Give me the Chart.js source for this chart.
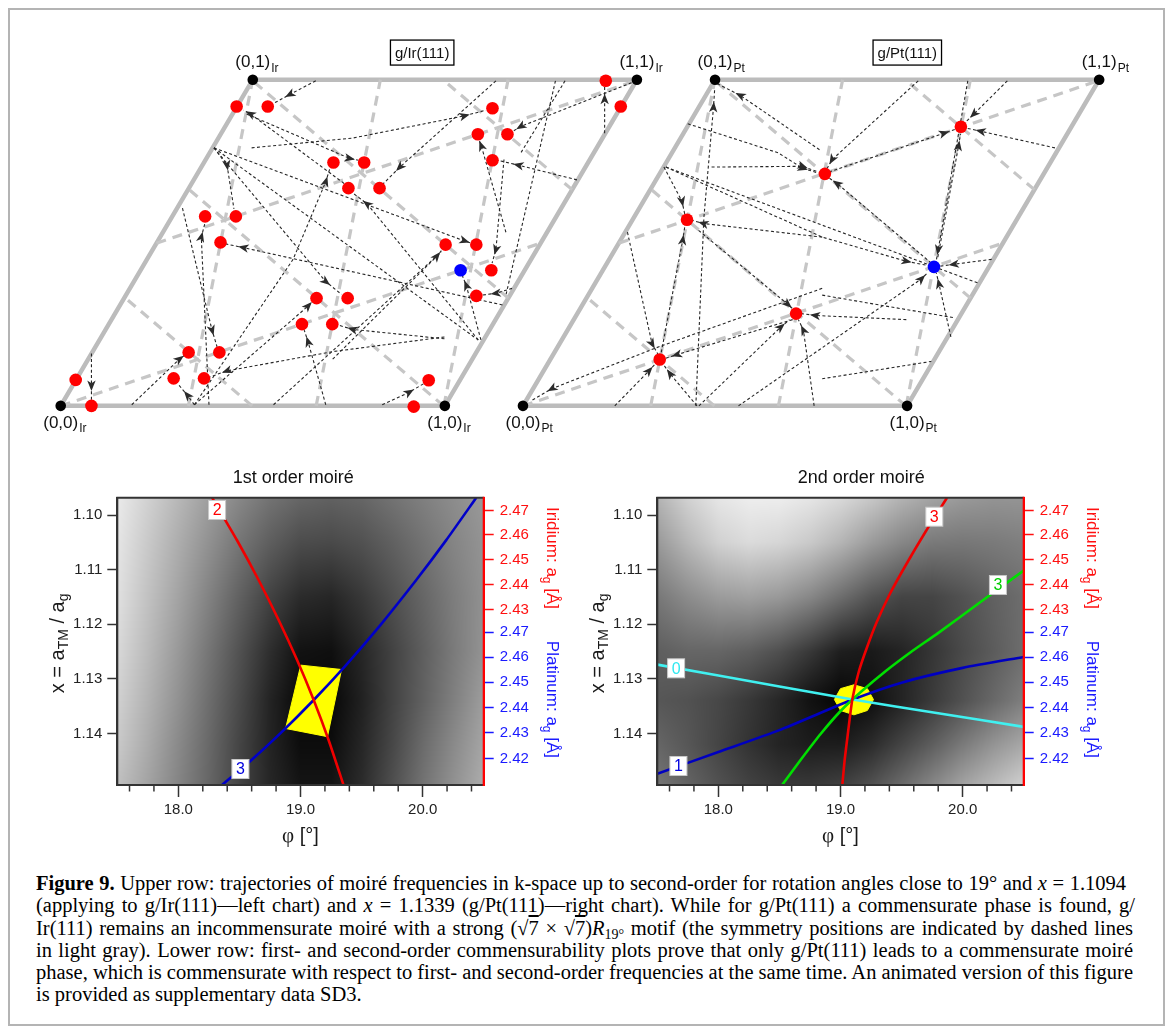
<!DOCTYPE html>
<html>
<head>
<meta charset="utf-8">
<title>Figure 9 – moiré trajectories and commensurability plots</title>
<script src="https://cdn.jsdelivr.net/npm/chart.js@4.4.1/dist/chart.umd.min.js"></script>
<style>
  html, body { margin:0; padding:0; background:#fff; }
  body { width:1173px; height:1034px; position:relative; overflow:hidden; }
  #frame { position:absolute; left:8px; top:8px; width:1157px; height:1018px; border:2px solid #b4b4b4; box-sizing:border-box; }
  canvas { position:absolute; }
  #cUpper { left:0; top:30px; width:1173px; height:420px; }
  #cLow1 { left:20px; top:460px; width:570px; height:390px; }
  #cLow2 { left:560px; top:460px; width:570px; height:390px; }
  #caption { position:absolute; left:36px; top:872px; width:1100px; font-family:"Liberation Serif","Times New Roman",serif; font-size:20.5px; line-height:22.3px; color:#000; }
  #caption .ln { white-space:nowrap; height:22.3px; }
  #caption .t { display:inline-block; white-space:nowrap; }
  #caption .sb { font-size:14px; vertical-align:-4px; line-height:0; }
  #caption .ov { text-decoration:overline; }
</style>
</head>
<body>
<div id="frame"></div>
<canvas id="cUpper" width="1173" height="420"></canvas>
<canvas id="cLow1" width="570" height="390"></canvas>
<canvas id="cLow2" width="570" height="390"></canvas>
<div id="caption">
<div class="ln"><span class="t j" data-w="1090"><b>Figure 9.</b> Upper row: trajectories of moiré frequencies in k-space up to second-order for rotation angles close to 19° and <i>x</i> = 1.1094</span></div>
<div class="ln"><span class="t j" data-w="1099">(applying to g/Ir(111)—left chart) and <i>x</i> = 1.1339 (g/Pt(111)—right chart). While for g/Pt(111) a commensurate phase is found, g/</span></div>
<div class="ln"><span class="t j" data-w="1097">Ir(111) remains an incommensurate moiré with a strong (√<span class="ov">7</span> × √<span class="ov">7</span>)<i>R</i><span class="sb">19°</span> motif (the symmetry positions are indicated by dashed lines</span></div>
<div class="ln"><span class="t j" data-w="1097">in light gray). Lower row: first- and second-order commensurability plots prove that only g/Pt(111) leads to a commensurate moiré</span></div>
<div class="ln"><span class="t j" data-w="1097">phase, which is commensurate with respect to first- and second-order frequencies at the same time. An animated version of this figure</span></div>
<div class="ln"><span class="t">is provided as supplementary data SD3.</span></div>
</div>

<script>
// =================== DATA ===================
// ---- Upper row: k-space, Cartesian coordinates in units of the substrate reciprocal vector ----
const cornerLattice = [[0,0],[1,0],[1,1],[0,1]];
const cornerNames   = ['(0,0)','(1,0)','(1,1)','(0,1)'];
const panelMetals   = ['Ir','Pt'];
const panelTitles   = ['g/Ir(111)','g/Pt(111)'];
const panelShift    = [0, 1.2034];
const titleBoxPos   = [[0.941,0.938],[1.0005,0.938]];
const symVec        = [0.3563, 0.1232];   // (√7×√7)R19° symmetry vector

const irRed = [[0.458,0.795],[0.539,0.795],[1.124,0.790],[1.086,0.721],[1.163,0.721],[1.124,0.652],
  [0.710,0.646],[0.790,0.646],[0.749,0.578],[0.830,0.578],[0.376,0.503],[0.456,0.503],[0.416,0.434],
  [1.002,0.428],[1.082,0.428],[1.121,0.360],[1.082,0.292],[0.666,0.286],[0.747,0.286],[0.628,0.217],
  [0.707,0.217],[0.333,0.142],[0.413,0.142],[0.294,0.073],[0.373,0.073],[0.039,0.069],[0.080,0.000],
  [0.958,0.068],[0.919,-0.002],[1.419,0.863],[1.458,0.795]];
const irBlue = [[1.041,0.360]];
const ptRed  = [[0.356,0.123],[0.427,0.494],[0.711,0.245],[0.786,0.616],[1.140,0.741]];
const ptBlue = [[1.070,0.369]];

// trajectories: last two points = arrow head position and the point it aims at
const irTraj = [
  [[0.664,0.863],[0.597,0.827],[0.554,0.803]],
  [[0.749,0.582],[0.494,0.775],[0.476,0.785]],
  [[0.497,0.685],[0.760,0.711],[1.051,0.770],[1.107,0.785]],
  [[1.133,0.863],[0.883,0.634],[0.837,0.587]],
  [[0.399,0.685],[0.433,0.639],[0.451,0.523]],
  [[0.399,0.685],[1.051,0.438],[1.066,0.433]],
  [[0.348,0.003],[0.605,0.389],[0.690,0.595],[0.700,0.628]],
  [[1.087,0.175],[0.798,0.536],[0.762,0.564]],
  [[1.159,0.461],[1.095,0.690],[1.089,0.706]],
  [[1.154,0.654],[1.133,0.415],[1.123,0.379]],
  [[0.708,0.124],[0.979,0.397],[0.991,0.412]],
  [[1.094,0.175],[1.056,0.319],[1.046,0.345]],
  [[1.175,0.312],[1.133,0.299],[1.097,0.294]],
  [[1.150,0.268],[0.476,0.420],[0.430,0.430]],
  [[0.399,0.685],[0.690,0.330],[0.731,0.296]],
  [[0.348,0.003],[0.644,0.265],[0.654,0.276]],
  [[0.690,0.003],[0.644,0.170],[0.634,0.201]],
  [[0.999,0.178],[0.760,0.203],[0.724,0.214]],
  [[0.185,0.003],[0.309,0.124],[0.322,0.134]],
  [[0.348,0.003],[0.330,0.028],[0.306,0.057]],
  [[0.999,0.183],[0.708,0.144],[0.433,0.093],[0.389,0.077]],
  [[0.317,0.525],[0.394,0.201],[0.407,0.157]],
  [[0.386,0.003],[0.366,0.448],[0.376,0.487]],
  [[0.080,0.139],[0.080,0.054],[0.080,0.015]],
  [[0.837,0.003],[0.907,0.036],[0.945,0.059]],
  [[0.484,0.775],[0.752,0.657],[0.775,0.652]],
  [[1.416,0.724],[1.416,0.814],[1.416,0.847]],
  [[1.486,0.858],[1.198,0.742],[1.177,0.729]],
  [[1.344,0.600],[1.192,0.639],[1.138,0.652]]
];
const irLines = [
  [[0.399,0.685],[1.087,0.175]],
  [[1.288,0.863],[1.159,0.294]],
  [[1.313,0.863],[1.198,0.672]],
  [[0.554,0.003],[0.991,0.409]]
];
const ptTraj = [
  [[0.772,0.680],[0.566,0.824],[0.501,0.858]],
  [[0.450,0.000],[0.471,0.500],[0.496,0.793],[0.499,0.840]],
  [[0.429,0.749],[0.664,0.672],[0.728,0.631],[0.769,0.618]],
  [[0.491,0.634],[0.728,0.636],[0.769,0.621]],
  [[0.367,0.634],[0.414,0.543],[0.421,0.510]],
  [[0.372,0.634],[0.779,0.448],[0.998,0.384],[1.052,0.373]],
  [[0.272,0.461],[0.336,0.165],[0.352,0.136]],
  [[0.360,0.142],[0.416,0.440],[0.421,0.474]],
  [[0.779,0.448],[0.470,0.484],[0.442,0.492]],
  [[0.457,0.466],[0.689,0.270],[0.702,0.258]],
  [[0.998,0.229],[0.761,0.240],[0.725,0.245]],
  [[0.758,0.000],[0.730,0.201],[0.717,0.229]],
  [[0.458,0.000],[0.671,0.209],[0.694,0.229]],
  [[0.239,0.000],[0.328,0.093],[0.344,0.111]],
  [[0.453,0.000],[0.383,0.085],[0.367,0.108]],
  [[0.702,0.229],[0.401,0.136],[0.370,0.126]],
  [[0.779,0.312],[0.354,0.157],[0.076,0.046],[0.020,0.013]],
  [[1.261,0.863],[1.174,0.775],[1.151,0.752]],
  [[1.385,0.685],[1.192,0.729],[1.156,0.737]],
  [[1.080,0.395],[1.134,0.690],[1.139,0.722]],
  [[1.158,0.863],[1.081,0.415],[1.076,0.386]],
  [[1.029,0.863],[0.805,0.654],[0.792,0.631]],
  [[1.063,0.379],[0.818,0.590],[0.797,0.605]],
  [[0.797,0.621],[1.096,0.724],[1.125,0.734]],
  [[1.220,0.389],[1.122,0.376],[1.086,0.371]],
  [[0.561,0.000],[1.037,0.337],[1.055,0.355]],
  [[1.114,0.183],[1.083,0.324],[1.076,0.353]]
];
const ptLines = [
  [[0.372,0.634],[1.185,0.326]],
  [[0.779,0.294],[1.122,0.234]],
  [[0.779,0.072],[1.063,0.118]]
];

// ---- Lower row: commensurability plots ----
const phiRange = [17.5, 20.5];
const xRange   = [1.09683, 1.14945];
const xTicks   = [1.10, 1.11, 1.12, 1.13, 1.14];
const phiMajor = [18.0, 19.0, 20.0];
const phiMinor = [17.6,17.8,18.2,18.4,18.6,18.8,19.2,19.4,19.6,19.8,20.2,20.4];
const aIr = 2.715, aPt = 2.770;          // substrate lattice constants [Å]
const irAgTicks = [2.47, 2.46, 2.45, 2.44, 2.43];
const ptAgTicks = [2.47, 2.46, 2.45, 2.44, 2.43, 2.42];

const shadePhi = [17.5,17.75,18.0,18.25,18.5,18.75,19.0,19.25,19.5,19.75,20.0,20.25,20.5];
const shadeX   = [1.097,1.105,1.115,1.125,1.134,1.142,1.1495];
const shade1 = [
  [0.92,0.82,0.72,0.62,0.53,0.45,0.40,0.38,0.40,0.45,0.50,0.55,0.60],
  [0.90,0.79,0.68,0.57,0.46,0.37,0.30,0.29,0.32,0.38,0.45,0.52,0.58],
  [0.88,0.76,0.64,0.51,0.38,0.26,0.17,0.15,0.22,0.31,0.40,0.49,0.57],
  [0.85,0.73,0.60,0.46,0.32,0.18,0.07,0.06,0.15,0.26,0.37,0.48,0.58],
  [0.82,0.70,0.57,0.43,0.29,0.14,0.03,0.03,0.13,0.26,0.38,0.50,0.62],
  [0.79,0.67,0.54,0.41,0.27,0.14,0.05,0.05,0.15,0.28,0.42,0.54,0.65],
  [0.75,0.64,0.52,0.40,0.27,0.15,0.08,0.08,0.17,0.31,0.45,0.57,0.68]
];
const shade2 = [
  [0.70,0.82,0.90,0.93,0.93,0.90,0.85,0.78,0.70,0.64,0.60,0.58,0.58],
  [0.60,0.72,0.82,0.86,0.84,0.79,0.71,0.61,0.53,0.48,0.47,0.48,0.50],
  [0.47,0.55,0.61,0.63,0.60,0.53,0.43,0.33,0.27,0.27,0.32,0.38,0.43],
  [0.37,0.40,0.40,0.37,0.31,0.22,0.12,0.10,0.14,0.21,0.29,0.36,0.43],
  [0.34,0.32,0.28,0.22,0.15,0.07,0.02,0.06,0.14,0.23,0.32,0.41,0.50],
  [0.40,0.34,0.27,0.20,0.14,0.11,0.11,0.17,0.27,0.37,0.48,0.58,0.66],
  [0.46,0.39,0.32,0.26,0.22,0.22,0.25,0.32,0.42,0.53,0.64,0.73,0.82]
];

// 1st order curves  [phi, x]
const o1Red    = [[18.276,1.09683],[18.479,1.10458],[18.657,1.11190],[18.821,1.11923],[18.972,1.12656],
                  [19.108,1.13388],[19.230,1.14121],[19.352,1.14945]];
const o1Blue   = [[18.358,1.14945],[18.590,1.14504],[18.837,1.13995],[19.108,1.13388],[19.371,1.12753],
                  [19.659,1.12002],[19.946,1.11196],[20.193,1.10460],[20.439,1.09683]];
const o1Yellow = [[19.002,1.1275],[19.336,1.1283],[19.221,1.1406],[18.878,1.1391],[19.002,1.1275]];
const o1Labels = [{t:'2', phi:18.317, x:1.09908, c:'#ff0000'}, {t:'3', phi:18.508, x:1.14652, c:'#0000dd'}];
// 2nd order curves
const o2Red    = [[19.015,1.14945],[19.034,1.14487],[19.059,1.14029],[19.097,1.13375],[19.149,1.12875],
                  [19.215,1.12436],[19.297,1.11960],[19.404,1.11447],[19.535,1.10916],[19.700,1.10293],[19.872,1.09683]];
const o2Green  = [[18.522,1.14945],[18.673,1.14487],[18.837,1.14011],[19.001,1.13590],[19.166,1.13242],
                  [19.371,1.12857],[19.577,1.12509],[19.796,1.12167],[20.152,1.11584],[20.513,1.10995]];
const o2Blue   = [[17.5,1.1474],[18.0,1.1434],[18.5,1.1394],[19.1,1.1338],[19.5,1.1307],[20.0,1.1280],[20.5,1.1260]];
const o2Cyan   = [[17.5,1.1274],[18.5,1.1314],[19.1,1.1338],[19.8,1.1363],[20.5,1.1388]];
const o2Yellow = [[19.27,1.1338],[19.22,1.1318],[19.11,1.1311],[19.00,1.1318],[18.95,1.1338],[19.00,1.1358],[19.11,1.1366],[19.22,1.1358],[19.27,1.1338]];
const o2Labels = [{t:'0', phi:17.654, x:1.12808, c:'#30e8f0'}, {t:'1', phi:17.673, x:1.14597, c:'#0000dd'},
                  {t:'3', phi:19.768, x:1.10031, c:'#ff0000'}, {t:'3', phi:20.289, x:1.11282, c:'#00cc00'}];

// =================== HELPERS ===================
const FONT  = '"Liberation Sans", Arial, sans-serif';
const SERIF = '"Liberation Serif", "Times New Roman", serif';
const S3 = Math.sqrt(3) / 2;
const latToCart = ([u, v]) => [u + v / 2, v * S3];
const cartToLat = ([x, y]) => { const v = y / S3; return [x - v / 2, v]; };

function clipToCell(P, d) {
  const p = cartToLat(P), q = cartToLat(d);
  let t0 = -1e9, t1 = 1e9;
  for (let k = 0; k < 2; k++) {
    if (Math.abs(q[k]) < 1e-12) { if (p[k] < 0 || p[k] > 1) return null; continue; }
    let a = -p[k] / q[k], b = (1 - p[k]) / q[k];
    if (a > b) [a, b] = [b, a];
    t0 = Math.max(t0, a); t1 = Math.min(t1, b);
  }
  if (t1 - t0 < 0.02) return null;
  return [[P[0] + t0 * d[0], P[1] + t0 * d[1]], [P[0] + t1 * d[0], P[1] + t1 * d[1]]];
}
function symmetryLines() {
  const b1 = symVec, c = 0.5, s = S3;
  const b2 = [b1[0] * c - b1[1] * s, b1[0] * s + b1[1] * c];
  const fams = [[b1, b2], [b2, b1], [[b2[0] - b1[0], b2[1] - b1[1]], b1]];
  const segs = [];
  for (const [d, step] of fams) {
    for (let k = -14; k <= 14; k++) {
      const seg = clipToCell([k * step[0], k * step[1]], d);
      if (seg) segs.push(seg);
    }
  }
  return segs;
}
function drawRich(ctx, parts, cx, cy, rot, color) {
  ctx.save();
  let W = 0;
  for (const p of parts) { ctx.font = p.f + 'px ' + (p.fam || FONT); p.w = ctx.measureText(p.t).width; W += p.w; }
  ctx.translate(cx, cy); ctx.rotate(rot);
  ctx.textBaseline = 'middle'; ctx.textAlign = 'left'; ctx.fillStyle = color;
  let x0 = -W / 2;
  for (const p of parts) { ctx.font = p.f + 'px ' + (p.fam || FONT); ctx.fillText(p.t, x0, p.dy || 0); x0 += p.w; }
  ctx.restore();
}
function drawArrow(ctx, ax, ay, bx, by) {
  const ang = Math.atan2(by - ay, bx - ax);
  ctx.save(); ctx.translate(ax, ay); ctx.rotate(ang);
  ctx.beginPath(); ctx.moveTo(5.5, 0); ctx.lineTo(-5, -4.2); ctx.lineTo(-2.2, 0); ctx.lineTo(-5, 4.2); ctx.closePath();
  ctx.fillStyle = '#2b2b2b'; ctx.fill(); ctx.restore();
}

// =================== UPPER CHART ===================
const upperDatasets = [];
const symSegs = symmetryLines();
for (let p = 0; p < 2; p++) {
  const sx = panelShift[p];
  const sh = pts => pts.map(([x, y]) => ({ x: x + sx, y }));
  const rh = cornerLattice.concat([cornerLattice[0]]).map(latToCart);
  upperDatasets.push({ data: sh(rh), showLine: true, borderColor: '#bcbcbc', borderWidth: 4.5, pointRadius: 0, order: 6 });
  for (const seg of symSegs) upperDatasets.push({ data: sh(seg), showLine: true, borderColor: '#c6c6c6', borderWidth: 3.2, borderDash: [10, 7], pointRadius: 0, order: 5 });
  for (const l of (p ? ptLines : irLines)) upperDatasets.push({ data: sh(l), showLine: true, borderColor: '#262626', borderWidth: 1.1, borderDash: [3, 2.4], pointRadius: 0, order: 4 });
  for (const l of (p ? ptTraj : irTraj)) upperDatasets.push({ data: sh(l), showLine: true, borderColor: '#262626', borderWidth: 1.1, borderDash: [3, 2.4], pointRadius: 0, order: 4, arrow: true });
  upperDatasets.push({ data: sh(p ? ptRed : irRed), showLine: false, pointRadius: 6.3, pointBackgroundColor: '#ff0000', pointBorderWidth: 0, order: 2 });
  upperDatasets.push({ data: sh(p ? ptBlue : irBlue), showLine: false, pointRadius: 6.3, pointBackgroundColor: '#0000ff', pointBorderWidth: 0, order: 2 });
  upperDatasets.push({ data: sh(cornerLattice.map(latToCart)), showLine: false, pointRadius: 5.3, pointBackgroundColor: '#000', pointBorderWidth: 0, order: 1 });
}

const upperDecor = {
  id: 'upperDecor',
  afterDatasetsDraw(chart) {
    const ctx = chart.ctx;
    chart.data.datasets.forEach((ds, i) => {
      if (!ds.arrow) return;
      const pts = chart.getDatasetMeta(i).data, n = pts.length;
      drawArrow(ctx, pts[n - 2].x, pts[n - 2].y, pts[n - 1].x, pts[n - 1].y);
    });
  },
  afterDraw(chart) {
    const ctx = chart.ctx, xs = chart.scales.x, ys = chart.scales.y;
    for (let p = 0; p < 2; p++) {
      cornerLattice.forEach((c, k) => {
        const [cx, cy] = latToCart(c);
        const px = xs.getPixelForValue(cx + panelShift[p]), py = ys.getPixelForValue(cy);
        const ty = c[1] === 0 ? py + 17 : py - 17;
        ctx.save();
        ctx.fillStyle = '#111'; ctx.textBaseline = 'middle'; ctx.textAlign = 'center';
        ctx.font = '17px ' + FONT;
        const w = ctx.measureText(cornerNames[k]).width;
        ctx.fillText(cornerNames[k], px, ty);
        ctx.textAlign = 'left'; ctx.font = '12px ' + FONT;
        ctx.fillText(panelMetals[p], px + w / 2 + 1, ty + 6);
        ctx.restore();
      });
      const bx = xs.getPixelForValue(titleBoxPos[p][0] + panelShift[p]), by = ys.getPixelForValue(titleBoxPos[p][1]);
      ctx.save();
      ctx.font = '15px ' + FONT;
      const tw = ctx.measureText(panelTitles[p]).width + 9;
      ctx.fillStyle = '#fff'; ctx.fillRect(bx - tw / 2, by - 12.5, tw, 25);
      ctx.strokeStyle = '#000'; ctx.lineWidth = 1.3; ctx.strokeRect(bx - tw / 2, by - 12.5, tw, 25);
      ctx.fillStyle = '#111'; ctx.textAlign = 'center'; ctx.textBaseline = 'middle';
      ctx.fillText(panelTitles[p], bx, by + 1);
      ctx.restore();
    }
  }
};

new Chart(document.getElementById('cUpper'), {
  type: 'scatter',
  data: { datasets: upperDatasets },
  options: {
    responsive: false, animation: false, events: [],
    layout: { padding: 0 },
    plugins: { legend: { display: false }, tooltip: { enabled: false } },
    scales: {
      x: { type: 'linear', display: false, min: -0.14164, max: 2.87922 },
      y: { type: 'linear', display: false, min: -0.10044, max: 0.98120 }
    }
  },
  plugins: [upperDecor]
});

// =================== LOWER CHARTS ===================
function bilinear(grid, phi, xv) {
  const fi = (arr, v) => {
    if (v <= arr[0]) return [0, 0];
    if (v >= arr[arr.length - 1]) return [arr.length - 2, 1];
    let i = 0; while (arr[i + 1] < v) i++;
    return [i, (v - arr[i]) / (arr[i + 1] - arr[i])];
  };
  const [i, tx] = fi(shadePhi, phi), [j, ty] = fi(shadeX, xv);
  const a = grid[j][i], b = grid[j][i + 1], c = grid[j + 1][i], d = grid[j + 1][i + 1];
  return (a * (1 - tx) + b * tx) * (1 - ty) + (c * (1 - tx) + d * tx) * ty;
}

const agVals   = irAgTicks.map(a => aIr / a).concat(ptAgTicks.map(a => aPt / a));
const agLabels = irAgTicks.concat(ptAgTicks).map(a => a.toFixed(2));
const AG_RED = '#ff1010', AG_BLUE = '#1a1aff';
const agColors = irAgTicks.map(() => AG_RED).concat(ptAgTicks.map(() => AG_BLUE));

function curve(pts, color, width, order, tension) {
  return { data: pts.map(([x, y]) => ({ x, y })), showLine: true, borderColor: color, borderWidth: width,
           pointRadius: 0, tension: tension, order: order, fill: false };
}
function poly(pts, color) {
  return { data: pts.map(([x, y]) => ({ x, y })), showLine: true, borderColor: color, borderWidth: 1,
           backgroundColor: color, fill: 'shape', pointRadius: 0, tension: 0, order: 9 };
}

function makeLower(id, cfg) {
  const heat = {
    id: 'heat' + id,
    beforeDatasetsDraw(chart) {
      const { ctx, chartArea: a, scales: { x, y } } = chart;
      const w = Math.round(a.right - a.left), h = Math.round(a.bottom - a.top);
      const off = document.createElement('canvas'); off.width = w; off.height = h;
      const octx = off.getContext('2d'), img = octx.createImageData(w, h);
      for (let j = 0; j < h; j++) {
        const yv = y.getValueForPixel(a.top + j + 0.5);
        for (let i = 0; i < w; i++) {
          const xv = x.getValueForPixel(a.left + i + 0.5);
          const g = Math.max(0, Math.min(1, bilinear(cfg.shade, xv, yv)));
          const c = Math.round(255 * g), k = (j * w + i) * 4;
          img.data[k] = c; img.data[k + 1] = c; img.data[k + 2] = c; img.data[k + 3] = 255;
        }
      }
      octx.putImageData(img, 0, 0);
      ctx.drawImage(off, a.left, a.top, a.right - a.left, a.bottom - a.top);
    }
  };
  const decor = {
    id: 'decor' + id,
    afterDatasetsDraw(chart) {
      const { ctx, chartArea: a, scales: { x, y } } = chart;
      ctx.save();
      ctx.lineWidth = 2; ctx.strokeStyle = '#333';
      ctx.beginPath(); ctx.moveTo(a.left - 1, a.top); ctx.lineTo(a.right, a.top);
      ctx.moveTo(a.left, a.top); ctx.lineTo(a.left, a.bottom + 1);
      ctx.moveTo(a.left - 1, a.bottom); ctx.lineTo(a.right, a.bottom); ctx.stroke();
      ctx.strokeStyle = '#ff0000';
      ctx.beginPath(); ctx.moveTo(a.right, a.top - 1); ctx.lineTo(a.right, a.bottom + 1); ctx.stroke();
      ctx.lineWidth = 1.5; ctx.strokeStyle = '#333';
      for (const v of phiMinor) {
        const px = x.getPixelForValue(v);
        ctx.beginPath(); ctx.moveTo(px, a.bottom); ctx.lineTo(px, a.bottom + 6.5); ctx.stroke();
      }
      for (const L of cfg.labels) {
        const px = x.getPixelForValue(L.phi), py = y.getPixelForValue(L.x);
        ctx.fillStyle = '#fff'; ctx.fillRect(px - 8.5, py - 9.5, 17, 19);
        ctx.strokeStyle = '#c8c8c8'; ctx.lineWidth = 1; ctx.strokeRect(px - 8.5, py - 9.5, 17, 19);
        ctx.fillStyle = L.c; ctx.font = '16px ' + FONT; ctx.textAlign = 'center'; ctx.textBaseline = 'middle';
        ctx.fillText(L.t, px, py + 1);
      }
      ctx.restore();
    },
    afterDraw(chart) {
      const { ctx, chartArea: a, scales: { y2 } } = chart;
      ctx.save();
      ctx.font = '18px ' + FONT; ctx.fillStyle = '#111'; ctx.textAlign = 'center'; ctx.textBaseline = 'middle';
      ctx.fillText(cfg.title, a.left + cfg.titleDx, a.top - 20);
      ctx.restore();
      drawRich(ctx, [{ t: 'x = a', f: 20 }, { t: 'TM', f: 14, dy: 6 }, { t: ' / a', f: 20 }, { t: 'g', f: 14, dy: 6 }],
               a.left - 59, (a.top + a.bottom) / 2 + 2, -Math.PI / 2, '#1a1a1a');
      drawRich(ctx, [{ t: 'φ', f: 21, fam: SERIF }, { t: ' [°]', f: 20 }], (a.left + a.right) / 2, a.bottom + 51, 0, '#1a1a1a');
      const irMid = (y2.getPixelForValue(aIr / irAgTicks[0]) + y2.getPixelForValue(aIr / irAgTicks[irAgTicks.length - 1])) / 2;
      const ptMid = (y2.getPixelForValue(aPt / ptAgTicks[0]) + y2.getPixelForValue(aPt / ptAgTicks[ptAgTicks.length - 1])) / 2;
      drawRich(ctx, [{ t: 'Iridium: a', f: 17 }, { t: 'g', f: 12, dy: 5 }, { t: ' [Å]', f: 17 }], a.right + 68, irMid - 2, Math.PI / 2, AG_RED);
      drawRich(ctx, [{ t: 'Platinum: a', f: 17 }, { t: 'g', f: 12, dy: 5 }, { t: ' [Å]', f: 17 }], a.right + 68, ptMid + 4, Math.PI / 2, AG_BLUE);
    }
  };
  const tickFont = { family: FONT, size: 15 };
  new Chart(document.getElementById(id), {
    type: 'line',
    data: { datasets: cfg.datasets },
    options: {
      responsive: false, animation: false, events: [],
      layout: { padding: { top: 37.7, left: 0, right: 0, bottom: 0 } },
      plugins: { legend: { display: false }, tooltip: { enabled: false } },
      scales: {
        x: {
          type: 'linear', position: 'bottom', min: phiRange[0], max: phiRange[1],
          afterBuildTicks: s => { s.ticks = phiMajor.map(v => ({ value: v })); },
          afterFit: s => { s.height = 65; },
          ticks: { callback: v => Number(v).toFixed(1), font: tickFont, color: '#222', padding: 4, maxRotation: 0, autoSkip: false },
          grid: { drawOnChartArea: false, tickLength: 12, tickColor: '#333', tickWidth: 1.5 },
          border: { color: '#333', width: 2 }
        },
        y: {
          type: 'linear', position: 'left', reverse: true, min: xRange[0], max: xRange[1],
          afterBuildTicks: s => { s.ticks = xTicks.map(v => ({ value: v })); },
          afterFit: s => { s.width = 97.3; },
          ticks: { callback: v => Number(v).toFixed(2), font: tickFont, color: '#222', padding: 5, autoSkip: false },
          grid: { drawOnChartArea: false, tickLength: 10, tickColor: '#333', tickWidth: 1.5 },
          border: { color: '#333', width: 2 }
        },
        y2: {
          type: 'linear', position: 'right', reverse: true, min: xRange[0], max: xRange[1],
          afterBuildTicks: s => { s.ticks = agVals.map(v => ({ value: v })); },
          afterFit: s => { s.width = 106.3; },
          ticks: { callback: (v, i) => agLabels[i], font: tickFont, color: c => agColors[c.index], padding: 6, autoSkip: false },
          grid: { drawOnChartArea: false, tickLength: 10, tickColor: c => agColors[c.index], tickWidth: 1.5 },
          border: { color: '#ff0000', width: 2 }
        }
      }
    },
    plugins: [heat, decor]
  });
}

makeLower('cLow1', {
  shade: shade1, title: '1st order moiré', titleDx: 176, labels: o1Labels,
  datasets: [poly(o1Yellow, '#ffff00'), curve(o1Red, '#f00000', 2.6, 1, 0.2), curve(o1Blue, '#0000c8', 2.6, 1, 0.2)]
});
makeLower('cLow2', {
  shade: shade2, title: '2nd order moiré', titleDx: 204, labels: o2Labels,
  datasets: [poly(o2Yellow, '#ffff00'), curve(o2Cyan, '#40f0f0', 2.6, 2, 0.2), curve(o2Blue, '#0000c0', 2.6, 2, 0.2),
             curve(o2Green, '#00e000', 2.6, 1, 0.2), curve(o2Red, '#ee0000', 2.6, 0, 0.2)]
});

// =================== CAPTION JUSTIFICATION ===================
document.querySelectorAll('#caption .j').forEach(el => {
  const W = Number(el.dataset.w);
  const w = el.getBoundingClientRect().width;
  const spaces = (el.textContent.match(/ /g) || []).length;
  if (spaces) el.style.wordSpacing = ((W - w) / spaces) + 'px';
});
</script>
</body>
</html>
